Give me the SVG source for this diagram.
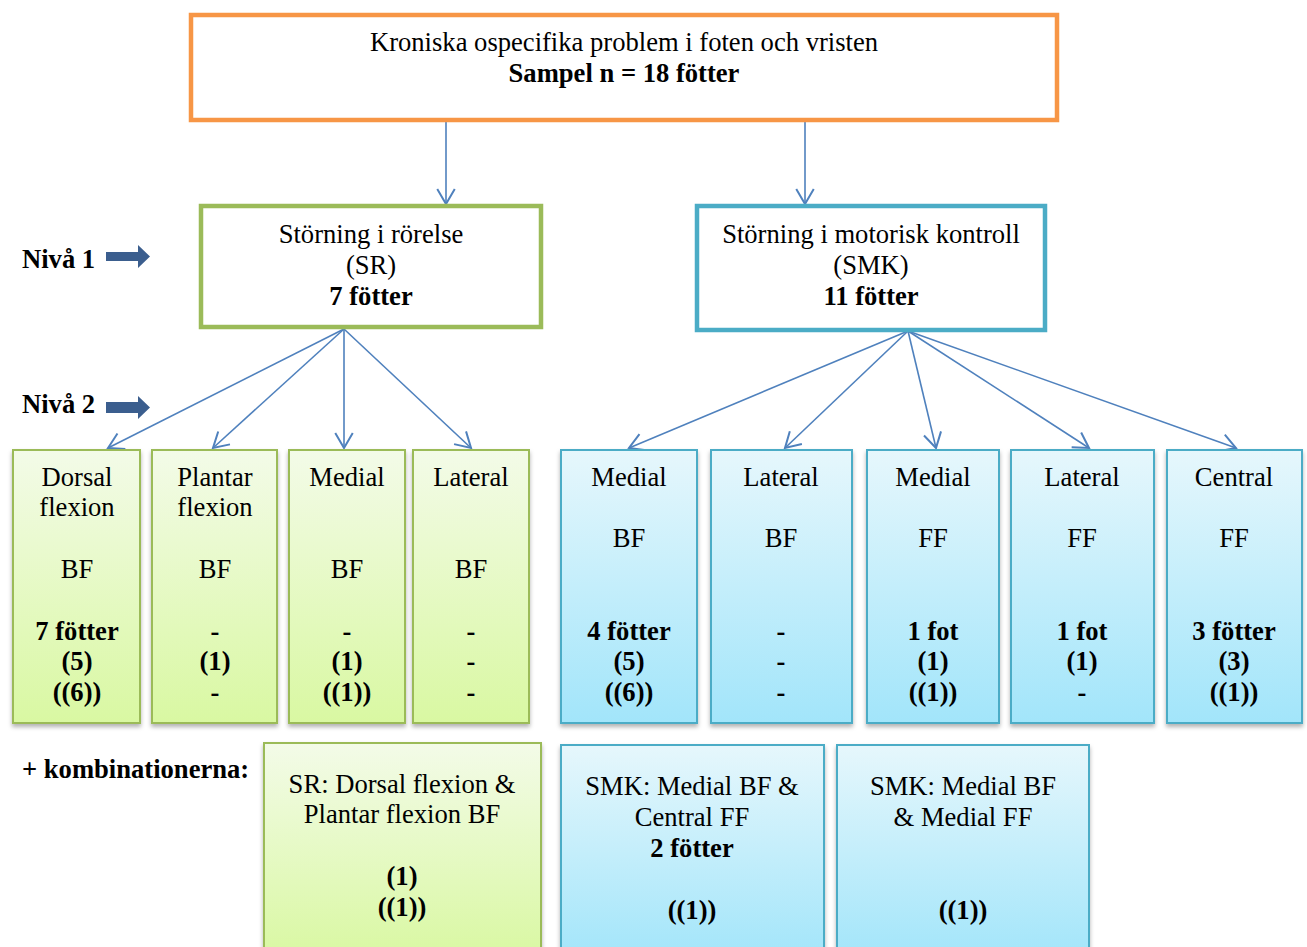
<svg xmlns="http://www.w3.org/2000/svg" width="1307" height="947" viewBox="0 0 1307 947">
<defs>
<style>
text{font-family:"Liberation Serif","Times New Roman",serif;font-size:26.6px;fill:#000;text-anchor:middle}
.b{font-weight:bold}
.l{text-anchor:start}
.top{fill:#fff;stroke:#F79646;stroke-width:4.5}
.g1{fill:#fff;stroke:#9BBB59;stroke-width:4.5}
.b1{fill:#fff;stroke:#4BACC6;stroke-width:4.5}
.g2{fill:url(#gg);stroke:#9BBB59;stroke-width:2;filter:url(#sh)}
.b2{fill:url(#bg);stroke:#4BACC6;stroke-width:2;filter:url(#sh)}
.c{stroke:#4F81BD;stroke-width:1.6;fill:none;marker-end:url(#ah)}
.na{fill:#3B5E8E}
</style>
<linearGradient id="gg" x1="0" y1="0" x2="0" y2="1">
<stop offset="0" stop-color="#F3FBE8"/>
<stop offset="1" stop-color="#D9F8A2"/>
</linearGradient>
<linearGradient id="bg" x1="0" y1="0" x2="0" y2="1">
<stop offset="0" stop-color="#E6F7FC"/>
<stop offset="1" stop-color="#A2E5FA"/>
</linearGradient>
<filter id="sh" x="-10%" y="-10%" width="120%" height="120%">
<feDropShadow dx="0" dy="3" stdDeviation="2" flood-color="#000" flood-opacity="0.3"/>
</filter>
<marker id="ah" markerUnits="userSpaceOnUse" markerWidth="20" markerHeight="20" refX="13" refY="8" orient="auto" viewBox="0 0 16 16">
<path d="M1,1 L13,8 L1,15" fill="none" stroke="#4F81BD" stroke-width="1.6"/>
</marker>
</defs>

<g id="connectors">
<line class="c" x1="446" y1="122" x2="446" y2="204"/>
<line class="c" x1="805" y1="122" x2="805" y2="204"/>
<line class="c" x1="344" y1="329" x2="108" y2="448"/>
<line class="c" x1="344" y1="329" x2="213" y2="448"/>
<line class="c" x1="344" y1="329" x2="344" y2="448"/>
<line class="c" x1="344" y1="329" x2="471" y2="448"/>
<line class="c" x1="908" y1="331" x2="629" y2="448"/>
<line class="c" x1="908" y1="331" x2="785" y2="448"/>
<line class="c" x1="908" y1="331" x2="936" y2="448"/>
<line class="c" x1="908" y1="331" x2="1089" y2="448"/>
<line class="c" x1="908" y1="331" x2="1236" y2="448"/>
</g>

<g id="top">
<rect class="top" x="191" y="15" width="866" height="105"/>
<text x="624" y="51">Kroniska ospecifika problem i foten och vristen</text>
<text class="b" x="624" y="82">Sampel n = 18 fötter</text>
</g>

<g id="labels">
<text class="b l" x="22" y="268">Nivå 1</text>
<path class="na" d="M106,252 H138 V245 L150,256.5 L138,268 V261 H106 Z"/>
<text class="b l" x="22" y="413">Nivå 2</text>
<path class="na" d="M106,402 H138 V396 L150,407.5 L138,419 V413 H106 Z"/>
<text class="b l" x="22" y="778">+ kombinationerna:</text>
</g>

<g id="sr">
<rect class="g1" x="201" y="206" width="340" height="121"/>
<text x="371" y="243">Störning i rörelse</text>
<text x="371" y="274">(SR)</text>
<text class="b" x="371" y="305">7 fötter</text>
</g>

<g id="smk">
<rect class="b1" x="697" y="206" width="348" height="124"/>
<text x="871" y="243">Störning i motorisk kontroll</text>
<text x="871" y="274">(SMK)</text>
<text class="b" x="871" y="305">11 fötter</text>
</g>

<g id="sr-dorsal">
<rect class="g2" x="13" y="450" width="127" height="273"/>
<text x="77" y="486">Dorsal</text>
<text x="77" y="516">flexion</text>
<text x="77" y="578">BF</text>
<text class="b" x="77" y="640">7 fötter</text>
<text class="b" x="77" y="670">(5)</text>
<text class="b" x="77" y="701">((6))</text>
</g>
<g id="sr-plantar">
<rect class="g2" x="152" y="450" width="125" height="273"/>
<text x="215" y="486">Plantar</text>
<text x="215" y="516">flexion</text>
<text x="215" y="578">BF</text>
<text class="b" x="215" y="640">-</text>
<text class="b" x="215" y="670">(1)</text>
<text class="b" x="215" y="701">-</text>
</g>
<g id="sr-medial">
<rect class="g2" x="289" y="450" width="116" height="273"/>
<text x="347" y="486">Medial</text>
<text x="347" y="578">BF</text>
<text class="b" x="347" y="640">-</text>
<text class="b" x="347" y="670">(1)</text>
<text class="b" x="347" y="701">((1))</text>
</g>
<g id="sr-lateral">
<rect class="g2" x="413" y="450" width="116" height="273"/>
<text x="471" y="486">Lateral</text>
<text x="471" y="578">BF</text>
<text class="b" x="471" y="640">-</text>
<text class="b" x="471" y="670">-</text>
<text class="b" x="471" y="701">-</text>
</g>

<g id="smk-medial-bf">
<rect class="b2" x="561" y="450" width="136" height="273"/>
<text x="629" y="486">Medial</text>
<text x="629" y="547">BF</text>
<text class="b" x="629" y="640">4 fötter</text>
<text class="b" x="629" y="670">(5)</text>
<text class="b" x="629" y="701">((6))</text>
</g>
<g id="smk-lateral-bf">
<rect class="b2" x="711" y="450" width="141" height="273"/>
<text x="781" y="486">Lateral</text>
<text x="781" y="547">BF</text>
<text class="b" x="781" y="640">-</text>
<text class="b" x="781" y="670">-</text>
<text class="b" x="781" y="701">-</text>
</g>
<g id="smk-medial-ff">
<rect class="b2" x="867" y="450" width="132" height="273"/>
<text x="933" y="486">Medial</text>
<text x="933" y="547">FF</text>
<text class="b" x="933" y="640">1 fot</text>
<text class="b" x="933" y="670">(1)</text>
<text class="b" x="933" y="701">((1))</text>
</g>
<g id="smk-lateral-ff">
<rect class="b2" x="1011" y="450" width="143" height="273"/>
<text x="1082" y="486">Lateral</text>
<text x="1082" y="547">FF</text>
<text class="b" x="1082" y="640">1 fot</text>
<text class="b" x="1082" y="670">(1)</text>
<text class="b" x="1082" y="701">-</text>
</g>
<g id="smk-central-ff">
<rect class="b2" x="1167" y="450" width="135" height="273"/>
<text x="1234" y="486">Central</text>
<text x="1234" y="547">FF</text>
<text class="b" x="1234" y="640">3 fötter</text>
<text class="b" x="1234" y="670">(3)</text>
<text class="b" x="1234" y="701">((1))</text>
</g>

<g id="combo-sr">
<rect class="g2" x="264" y="743" width="277" height="215"/>
<text x="402" y="793">SR: Dorsal flexion &amp;</text>
<text x="402" y="823">Plantar flexion BF</text>
<text class="b" x="402" y="885">(1)</text>
<text class="b" x="402" y="916">((1))</text>
</g>
<g id="combo-smk1">
<rect class="b2" x="561" y="745" width="263" height="215"/>
<text x="692" y="795">SMK: Medial BF &amp;</text>
<text x="692" y="826">Central FF</text>
<text class="b" x="692" y="857">2 fötter</text>
<text class="b" x="692" y="919">((1))</text>
</g>
<g id="combo-smk2">
<rect class="b2" x="837" y="745" width="252" height="215"/>
<text x="963" y="795">SMK: Medial BF</text>
<text x="963" y="826">&amp; Medial FF</text>
<text class="b" x="963" y="919">((1))</text>
</g>
</svg>
